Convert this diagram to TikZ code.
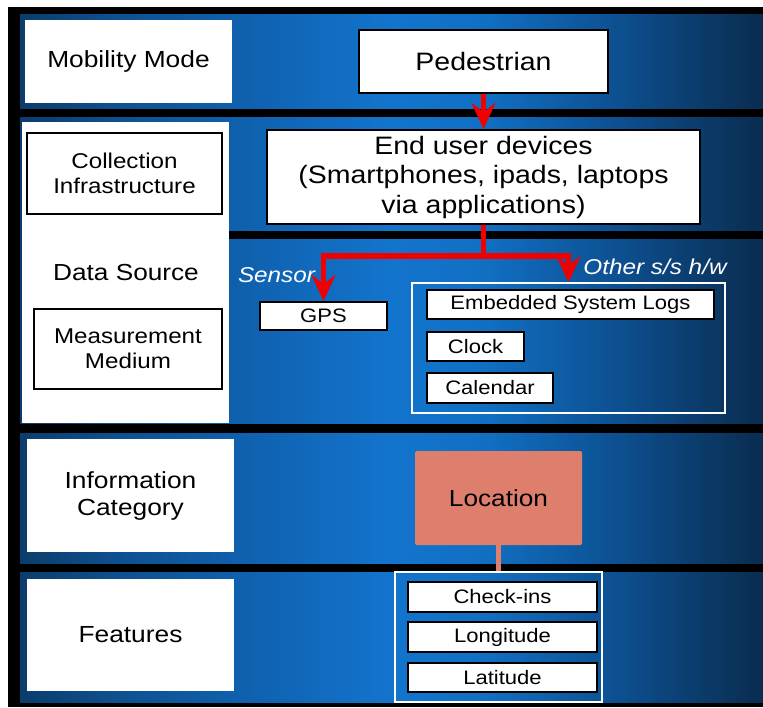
\documentclass[tikz,border=0pt]{standalone}
\usepackage{fontspec}
\setmainfont{Liberation Sans}[FakeStretch=1.13]
\usetikzlibrary{arrows.meta}
\definecolor{bgA}{HTML}{0B3D6C}
\definecolor{bgB}{HTML}{0E5190}
\definecolor{bgC}{HTML}{0F60AD}
\definecolor{bgD}{HTML}{1374CD}
\definecolor{bgE}{HTML}{1170C4}
\definecolor{bgF}{HTML}{0D5498}
\definecolor{bgG}{HTML}{0A2C4F}
\definecolor{arrred}{HTML}{F00000}
\definecolor{salmon}{HTML}{DE7F6E}
\pgfdeclarehorizontalshading{bandshade}{100bp}{color(0bp)=(bgA); color(25bp)=(bgA); color(31.7bp)=(bgB); color(39.8bp)=(bgC); color(49.9bp)=(bgD); color(56bp)=(bgE); color(64bp)=(bgF); color(75bp)=(bgG); color(100bp)=(bgG)}
\tikzset{
  bandfill/.style={shading=bandshade},
  labelbox/.style={fill=white, inner sep=0pt, align=center, font=\fontsize{23.3}{27}\selectfont},
  framedbox/.style={fill=white, draw=black, line width=2pt, inner sep=0pt, align=center},
  bigtext/.style={font=\fontsize{25.2}{29.5}\selectfont},
  midtext/.style={font=\fontsize{21.4}{25}\selectfont},
  smalltext/.style={font=\fontsize{19.5}{23}\selectfont},
  grpbox/.style={draw=white, line width=1.5pt, inner sep=0pt},
  tagtext/.style={text=white, inner sep=0pt, font=\fontsize{21.5}{25}\selectfont\itshape},
  redline/.style={draw=arrred, line width=5.5pt, -{Stealth[length=26pt,width=24pt,inset=9pt]}},
  loclink/.style={draw=salmon, line width=4.5pt}
}
\begin{document}
\begin{tikzpicture}[x=1pt,y=-1pt]
\useasboundingbox (0,0) rectangle (763,707);
\fill[white] (0,0) rectangle (763,707);
\fill[black] (8,7) rectangle (763,707);
% bands
\foreach \ya/\yb in {14/108, 117/230, 239/423, 433/563, 572/702}{
  \shade[bandfill] (20,\ya) rectangle (763,\yb);
}
\fill[bgA] (20,228) rectangle (22,241);
% left white column for bands 2-3
\fill[white] (22,122) rectangle (229,423);
\fill[white] (22,228) rectangle (229,241);

% group outlines
\node[grpbox, minimum width=313pt, minimum height=130pt] (othergrp) at (568.5,348) {};
\node[grpbox, minimum width=207pt, minimum height=130pt] (featgrp) at (498.5,637) {};

% row 1
\node[labelbox, minimum width=207pt, minimum height=83pt] (mobility) at (128.5,61.5) {Mobility Mode};
\node[framedbox, bigtext, minimum width=249pt, minimum height=63pt] (pedestrian) at (483.5,61.5) {Pedestrian};

% row 2
\node[framedbox, midtext, minimum width=195pt, minimum height=81pt] (collection) at (124.5,173.5) {Collection\\Infrastructure};
\node[framedbox, bigtext, minimum width=433pt, minimum height=94pt] (enduser) at (483.5,177) {End user devices\\(Smartphones, ipads, laptops\\via applications)};

% row 3
\node[inner sep=0pt, font=\fontsize{23.2}{27}\selectfont] (datasource) at (126,273) {Data Source};
\node[framedbox, midtext, minimum width=188pt, minimum height=80pt] (measurement) at (128,349) {Measurement\\Medium};
\node[tagtext] (sensor) at (276.5,275) {Sensor};
\node[tagtext] (otherhw) at (655,267) {Other s/s h/w};
\node[framedbox, smalltext, minimum width=127pt, minimum height=28pt] (gps) at (323.5,316) {GPS};
\node[framedbox, smalltext, minimum width=287pt, minimum height=29pt] (esl) at (570.5,304.5) {Embedded System Logs};
\node[framedbox, smalltext, minimum width=97pt, minimum height=29pt] (clock) at (475.5,346.5) {Clock};
\node[framedbox, smalltext, minimum width=126pt, minimum height=30pt] (calendar) at (490,388) {Calendar};

% row 4
\node[labelbox, minimum width=207pt, minimum height=113pt] (infocat) at (130.5,495.5) {Information\\Category};
\node[fill=salmon, rounded corners=1.5pt, inner sep=0pt, minimum width=167pt, minimum height=94pt, font=\fontsize{23.2}{27}\selectfont] (location) at (498.5,498) {Location};

% row 5
\node[labelbox, minimum width=207pt, minimum height=112pt] (features) at (130.5,635) {Features};
\node[framedbox, smalltext, minimum width=189pt, minimum height=30pt] (checkins) at (502.5,597) {Check-ins};
\node[framedbox, smalltext, minimum width=189pt, minimum height=30pt] (longitude) at (502.5,637) {Longitude};
\node[framedbox, smalltext, minimum width=189pt, minimum height=29pt] (latitude) at (502.5,677.5) {Latitude};

% connectors
\draw[redline] (pedestrian.south) -- (enduser.north);
\coordinate (split) at (483.5,256);
\draw[redline] (enduser.south) -- (split) -| (gps.north);
\draw[redline] (split) -| (othergrp.north);
\draw[loclink] (location.south) -- (featgrp.north);
\end{tikzpicture}
\end{document}
